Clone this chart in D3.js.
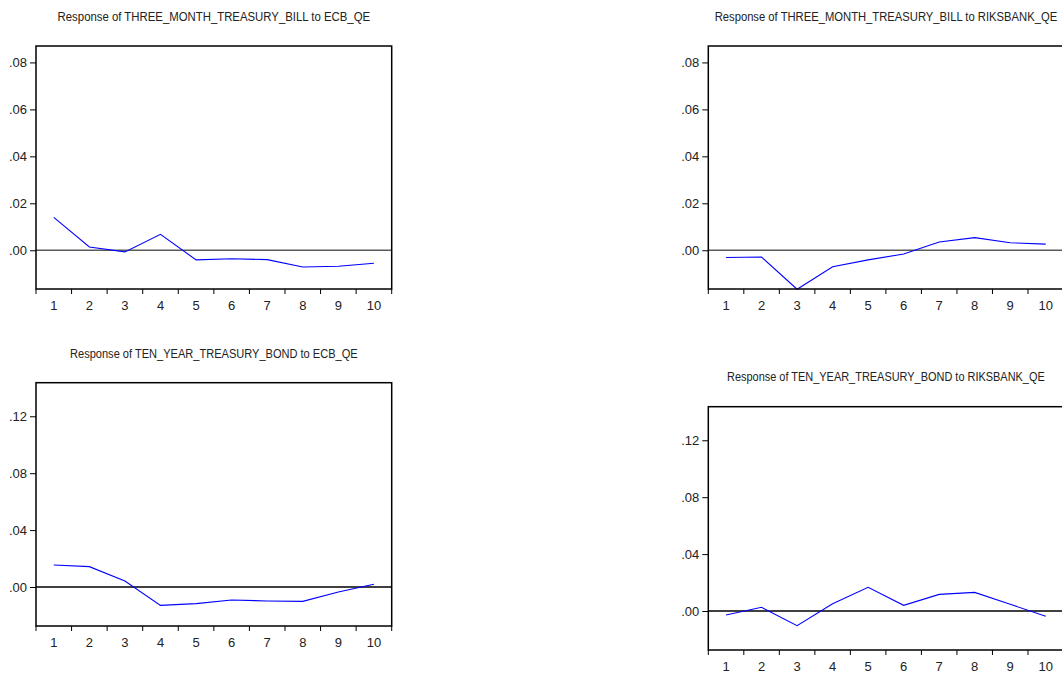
<!DOCTYPE html>
<html>
<head>
<meta charset="utf-8">
<script src="https://cdn.jsdelivr.net/npm/d3@7"></script>
<style>
  html, body { margin: 0; padding: 0; background: #fff; }
  svg { display: block; }
  text { font-family: "Liberation Sans", Arial, sans-serif; fill: #222; }
</style>
</head>
<body>
<svg id="chart" width="1062" height="677"></svg>
<script>
// Impulse response periods
const periods = [1, 2, 3, 4, 5, 6, 7, 8, 9, 10];

// Responses of the three-month bill
const billToEcb      = [0.0140, 0.0014, -0.0007, 0.0068, -0.0041, -0.0036, -0.0040, -0.0071, -0.0068, -0.0055];
const billToRiksbank = [-0.0031, -0.0029, -0.0166, -0.0070, -0.0041, -0.0016, 0.0035, 0.0054, 0.0032, 0.0026];

// Responses of the ten-year bond
const bondToEcb      = [0.0155, 0.0143, 0.0042, -0.0129, -0.0117, -0.0091, -0.0098, -0.0101, -0.0035, 0.0019];
const bondToRiksbank = [-0.0028, 0.0026, -0.0103, 0.0051, 0.0167, 0.0040, 0.0117, 0.0131, 0.0047, -0.0037];

// Y tick labels
const billTicks = [0.00, 0.02, 0.04, 0.06, 0.08];
const bondTicks = [0.00, 0.04, 0.08, 0.12];

const billDomain = [-0.0165, 0.087];
const bondDomain = [-0.0274, 0.1436];

const panels = [
  { title: "Response of THREE_MONTH_TREASURY_BILL to ECB_QE", values: billToEcb,
    ticks: billTicks, domain: billDomain, left: 36, right: 391.7, top: 46, bottom: 289,
    titleY: 21, titleW: 313, zeroColor: "#5a5a5a" },
  { title: "Response of THREE_MONTH_TREASURY_BILL to RIKSBANK_QE", values: billToRiksbank,
    ticks: billTicks, domain: billDomain, left: 708.3, right: 1063.5, top: 46, bottom: 289,
    titleY: 21, titleW: 343, zeroColor: "#5a5a5a" },
  { title: "Response of TEN_YEAR_TREASURY_BOND to ECB_QE", values: bondToEcb,
    ticks: bondTicks, domain: bondDomain, left: 36, right: 391.7, top: 382.7, bottom: 626,
    titleY: 357.5, titleW: 288, zeroColor: "#000" },
  { title: "Response of TEN_YEAR_TREASURY_BOND to RIKSBANK_QE", values: bondToRiksbank,
    ticks: bondTicks, domain: bondDomain, left: 708.3, right: 1063.5, top: 406.7, bottom: 650,
    titleY: 381, titleW: 318, zeroColor: "#000" }
];

const svg = d3.select("#chart");
const fmt = d => d3.format(".2f")(d).replace(/^(-?)0\./, "$1.");

panels.forEach(p => {
  const g = svg.append("g");
  const x = d3.scaleBand().domain(periods).range([p.left, p.right]).padding(0);
  const y = d3.scaleLinear().domain(p.domain).range([p.bottom, p.top]);

  // Title, squeezed horizontally to a condensed look
  const title = g.append("text")
    .attr("text-anchor", "middle")
    .attr("font-size", 13.5)
    .text(p.title);
  const natural = title.node().getComputedTextLength();
  const sx = Math.min(1, p.titleW / natural);
  title.attr("transform", `translate(${(p.left + p.right) / 2},${p.titleY}) scale(${sx},1)`);

  // Zero reference line
  g.append("line")
    .attr("x1", p.left).attr("x2", p.right)
    .attr("y1", y(0)).attr("y2", y(0))
    .attr("stroke", p.zeroColor).attr("stroke-width", 1.3);

  // Response line
  const line = d3.line()
    .x((d, i) => x(periods[i]) + x.bandwidth() / 2)
    .y(d => y(d));
  g.append("path")
    .datum(p.values)
    .attr("d", line)
    .attr("fill", "none")
    .attr("stroke", "#0000ff")
    .attr("stroke-width", 1.1);

  // Frame
  g.append("rect")
    .attr("x", p.left).attr("y", p.top)
    .attr("width", p.right - p.left).attr("height", p.bottom - p.top)
    .attr("fill", "none").attr("stroke", "#000").attr("stroke-width", 1.5);

  // Y axis
  const yAxis = g.append("g")
    .attr("transform", `translate(${p.left},0)`)
    .call(d3.axisLeft(y).tickValues(p.ticks).tickFormat(fmt).tickSize(6).tickPadding(3));
  yAxis.select(".domain").remove();
  yAxis.selectAll("text").attr("font-size", 13).attr("fill", "#222")
    .style("font-family", "'Liberation Sans', Arial, sans-serif");
  yAxis.selectAll("line").attr("stroke", "#000");

  // X axis: tick marks on period boundaries, labels in the middle of each period
  const edges = periods.map(d => x(d)).concat([p.right]);
  g.selectAll(null).data(edges).enter().append("line")
    .attr("x1", d => d).attr("x2", d => d)
    .attr("y1", p.bottom).attr("y2", p.bottom + 5)
    .attr("stroke", "#000").attr("stroke-width", 1);
  const xAxis = g.append("g")
    .attr("transform", `translate(0,${p.bottom})`)
    .call(d3.axisBottom(x).tickSize(0).tickPadding(12));
  xAxis.select(".domain").remove();
  xAxis.selectAll("text").attr("font-size", 13).attr("fill", "#222")
    .style("font-family", "'Liberation Sans', Arial, sans-serif");
});
</script>
</body>
</html>
